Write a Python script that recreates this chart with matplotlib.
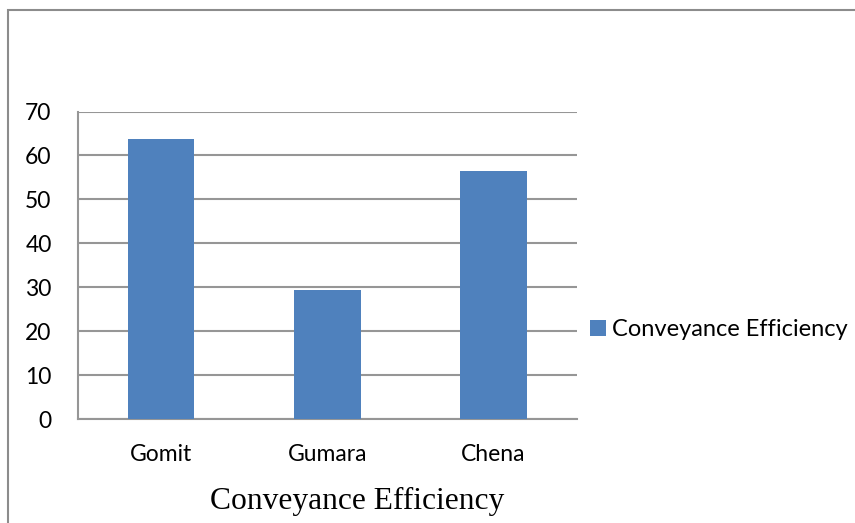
import matplotlib
matplotlib.use("Agg")
import matplotlib.pyplot as plt
from matplotlib.patches import Rectangle

categories = ["Gomit", "Gumara", "Chena"]
efficiency = [63.7, 29.4, 56.4]
series_name = "Conveyance Efficiency"
y_ticks = [0, 10, 20, 30, 40, 50, 60, 70]

W, H = 855, 523
fig = plt.figure(figsize=(W / 100, H / 100), dpi=100)

# outer chart frame (runs off the right and bottom edges)
fig.patches.append(Rectangle((8 / W, -0.1), 2.0, 1 - 10.5 / H + 0.1,
                             transform=fig.transFigure, fill=False,
                             edgecolor="#8c8c8c", linewidth=1.5))

ax = fig.add_axes([78 / W, 104 / H, (576.6 - 78) / W, (419 - 111.5) / H])
x = range(len(categories))
ax.bar(x, efficiency, width=0.4, color="#4F81BD", label=series_name, zorder=3)

ax.set_xlim(-0.5, len(categories) - 0.5)
ax.set_ylim(0, 70)
ax.set_yticks(y_ticks)
ax.set_xticks(list(x))
ax.set_xticklabels(categories)
ax.yaxis.grid(True, color="#969696", linewidth=1.5, zorder=0)
ax.set_axisbelow(True)
for s in ["top", "right"]:
    ax.spines[s].set_visible(False)
for s in ["left", "bottom"]:
    ax.spines[s].set_color("#969696")
    ax.spines[s].set_linewidth(1.5)
ax.tick_params(axis="both", length=0, labelsize=16.5)
ax.tick_params(axis="y", pad=19)
ax.tick_params(axis="x", pad=18)
for lab in ax.get_xticklabels() + ax.get_yticklabels():
    lab.set_fontfamily("Lato")

fig.text(357 / W, 1 - 501 / H, series_name, ha="center", va="center",
         fontsize=22.7, family="Liberation Serif")

leg = ax.legend(loc="center left", bbox_to_anchor=(1.0 + 13 / (576.6 - 78), 1 - (330 - 111.5) / (419 - 111.5)),
                frameon=False, prop={"family": "Lato", "size": 17},
                handlelength=0.68, handleheight=0.68, handletextpad=0.25,
                borderaxespad=0, borderpad=0)

fig.savefig("out.png", dpi=100)
